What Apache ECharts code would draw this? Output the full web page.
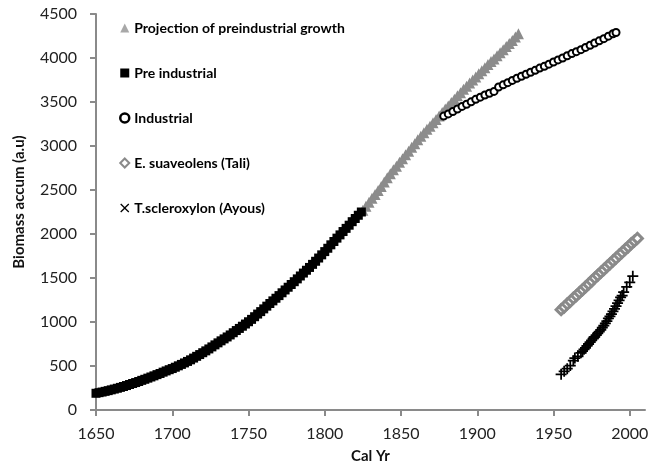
<!DOCTYPE html>
<html>
<head>
<meta charset="utf-8">
<script src="https://cdn.jsdelivr.net/npm/echarts@6/dist/echarts.min.js"></script>
<style>
  html, body { margin: 0; padding: 0; background: #fff; }
  #chart { width: 651px; height: 465px; }
</style>
</head>
<body>
<div id="chart"></div>
<script>
// values (Cal Yr, biomass a.u.)
var xTicks = [1650, 1700, 1750, 1800, 1850, 1900, 1950, 2000];

var preYears = [1650,1652,1654,1656,1658,1660,1662,1664,1666,1668,1670,1672,1674,1676,1678,1680,1682,1684,1686,1688,1690,1692,1694,1696,1698,1700,1702,1704,1706,1708,1710,1712,1714,1716,1718,1720,1722,1724,1726,1728,1730,1732,1734,1736,1738,1740,1742,1744,1746,1748,1750,1752,1754,1756,1758,1760,1762,1764,1766,1768,1770,1772,1774,1776,1778,1780,1782,1784,1786,1788,1790,1792,1794,1796,1798,1800,1802,1804,1806,1808,1810,1812,1814,1816,1818,1820,1822,1824];
var preValues = [190,197,204,212,220,229,238,247,257,267,278,290,301,312,324,337,349,362,375,388,402,415,430,444,458,471,486,502,518,535,552,570,590,610,630,651,672,694,717,740,763,786,808,830,853,878,903,927,952,977,1003,1030,1060,1090,1118,1149,1180,1210,1240,1270,1300,1332,1364,1395,1426,1458,1490,1523,1556,1588,1620,1655,1690,1727,1763,1800,1838,1877,1915,1953,1990,2028,2064,2100,2140,2176,2213,2250];

var projYears = [1825,1827,1829,1831,1833,1835,1837,1839,1841,1843,1845,1847,1849,1851,1853,1855,1857,1859,1861,1863,1865,1867,1869,1871,1873,1875,1877,1879,1881,1883,1885,1887,1889,1891,1893,1895,1897,1899,1901,1903,1905,1907,1909,1911,1913,1915,1917,1919,1921,1923,1925,1927];
var projValues = [2270,2315,2360,2405,2450,2495,2540,2590,2640,2685,2730,2770,2815,2855,2900,2940,2985,3025,3070,3110,3150,3190,3225,3265,3300,3340,3380,3420,3455,3495,3530,3570,3605,3645,3680,3715,3750,3785,3820,3855,3890,3925,3960,3990,4025,4060,4095,4130,4165,4200,4240,4275];

var indYears = [1878,1881,1884,1887,1890,1893,1896,1899,1902,1905,1908,1911,1914,1917,1920,1923,1926,1929,1932,1935,1938,1941,1944,1947,1950,1953,1956,1959,1962,1965,1968,1971,1974,1977,1980,1983,1986,1989,1991];
var indValues = [3340,3365,3392,3420,3450,3475,3502,3530,3555,3580,3600,3620,3670,3695,3720,3745,3770,3792,3815,3838,3860,3885,3905,3930,3955,3978,4000,4025,4050,4072,4095,4120,4145,4170,4195,4220,4248,4275,4290];

var taliYears = [1955,1957,1959,1961,1963,1965,1967,1969,1971,1973,1975,1977,1979,1981,1983,1985,1987,1989,1991,1993,1995,1997,1999,2001,2003,2005];
var taliValues = [1140,1170,1205,1235,1270,1300,1335,1365,1400,1430,1465,1500,1530,1565,1595,1630,1660,1695,1725,1760,1790,1825,1855,1890,1920,1950];

var ayousYears = [1955,1957,1959,1961,1963,1964,1966,1968,1969,1970,1971,1972,1973,1974,1975,1976,1976.5,1977,1978,1979,1980,1981,1982,1983,1984,1985,1986,1987,1988,1989,1990,1991,1992,1993,1994,1995,1996,1998,2000,2002];
var ayousValues = [405,440,470,505,560,590,610,650,670,690,705,730,750,770,790,810,825,830,850,870,890,910,935,960,985,1010,1040,1065,1090,1120,1150,1180,1215,1245,1280,1300,1340,1400,1450,1520];

function pairs(xs, ys) {
  var out = [];
  for (var i = 0; i < xs.length; i++) out.push([xs[i], ys[i]]);
  return out;
}

var plusPath = 'path://M4.2,0H5.8V4.2H10V5.8H5.8V10H4.2V5.8H0V4.2H4.2Z';
var crossPath = 'path://M1,0L5,4L9,0L10,1L6,5L10,9L9,10L5,6L1,10L0,9L4,5L0,1Z';

var FONT = 'Lato';
var axisGray = '#8a8a8a';

var myChart = echarts.init(document.getElementById('chart'));
myChart.setOption({
  animation: false,
  backgroundColor: '#fff',
  grid: { left: 96, right: 6, top: 14, bottom: 55, outerBoundsMode: 'none', containLabel: false },
  legend: {
    orient: 'vertical',
    left: 114,
    top: 16,
    itemWidth: 9,
    itemHeight: 9,
    itemGap: 31,
    textStyle: { fontFamily: FONT, fontWeight: 'bold', fontSize: 14, color: '#000', lineHeight: 14 },
    data: [
      { name: 'Projection of preindustrial growth', icon: 'triangle', itemStyle: { color: '#a8a8a8' } },
      { name: 'Pre industrial', icon: 'rect' },
      { name: 'Industrial', icon: 'circle', itemStyle: { borderWidth: 2.5 } },
      { name: 'E. suaveolens (Tali)', icon: 'diamond' },
      { name: 'T.scleroxylon (Ayous)', icon: crossPath }
    ]
  },
  xAxis: {
    type: 'value',
    min: 1650,
    max: 2010,
    interval: 50,
    name: 'Cal Yr',
    nameLocation: 'middle',
    nameGap: 39,
    nameTextStyle: { fontFamily: FONT, fontWeight: 'bold', fontSize: 15, color: '#111' },
    splitLine: { show: false },
    axisLine: { show: true, lineStyle: { color: axisGray, width: 2 } },
    axisTick: { show: true, length: 6, lineStyle: { color: axisGray, width: 2 }, customValues: xTicks },
    axisLabel: { fontFamily: FONT, fontSize: 16, color: '#222', margin: 16, customValues: xTicks, formatter: function (v) { return String(v); } }
  },
  yAxis: {
    type: 'value',
    min: 0,
    max: 4500,
    interval: 500,
    name: 'Biomass accum (a.u)',
    nameLocation: 'middle',
    nameGap: 69,
    nameTextStyle: { fontFamily: FONT, fontWeight: 'bold', fontSize: 15, color: '#111', padding: [0, 0, 0, 20] },
    splitLine: { show: false },
    axisLine: { show: true, lineStyle: { color: axisGray, width: 2 } },
    axisTick: { show: true, length: 6, lineStyle: { color: axisGray, width: 2 } },
    axisLabel: { fontFamily: FONT, fontSize: 16, color: '#222', margin: 19, formatter: function (v) { return String(v); } }
  },
  series: [
    {
      name: 'Projection of preindustrial growth',
      type: 'scatter',
      symbol: 'triangle',
      symbolSize: 11,
      itemStyle: { color: '#8c8c8c', opacity: 1 },
      data: pairs(projYears, projValues),
      z: 2
    },
    {
      name: 'Pre industrial',
      type: 'scatter',
      symbol: 'rect',
      symbolSize: 9,
      itemStyle: { color: '#000', opacity: 1 },
      data: pairs(preYears, preValues),
      z: 3
    },
    {
      name: 'Industrial',
      type: 'scatter',
      symbol: 'circle',
      symbolSize: 7,
      itemStyle: { color: '#fff', borderColor: '#000', borderWidth: 2, opacity: 1 },
      data: pairs(indYears, indValues),
      z: 4
    },
    {
      name: 'E. suaveolens (Tali)',
      type: 'scatter',
      symbol: 'diamond',
      symbolSize: 10,
      itemStyle: { color: '#fff', borderColor: '#8a8a8a', borderWidth: 3, opacity: 1 },
      data: pairs(taliYears, taliValues),
      z: 3
    },
    {
      name: 'T.scleroxylon (Ayous)',
      type: 'scatter',
      symbol: plusPath,
      symbolSize: 11,
      itemStyle: { color: '#000', opacity: 1 },
      data: pairs(ayousYears, ayousValues),
      z: 3
    }
  ]
});
</script>
</body>
</html>
